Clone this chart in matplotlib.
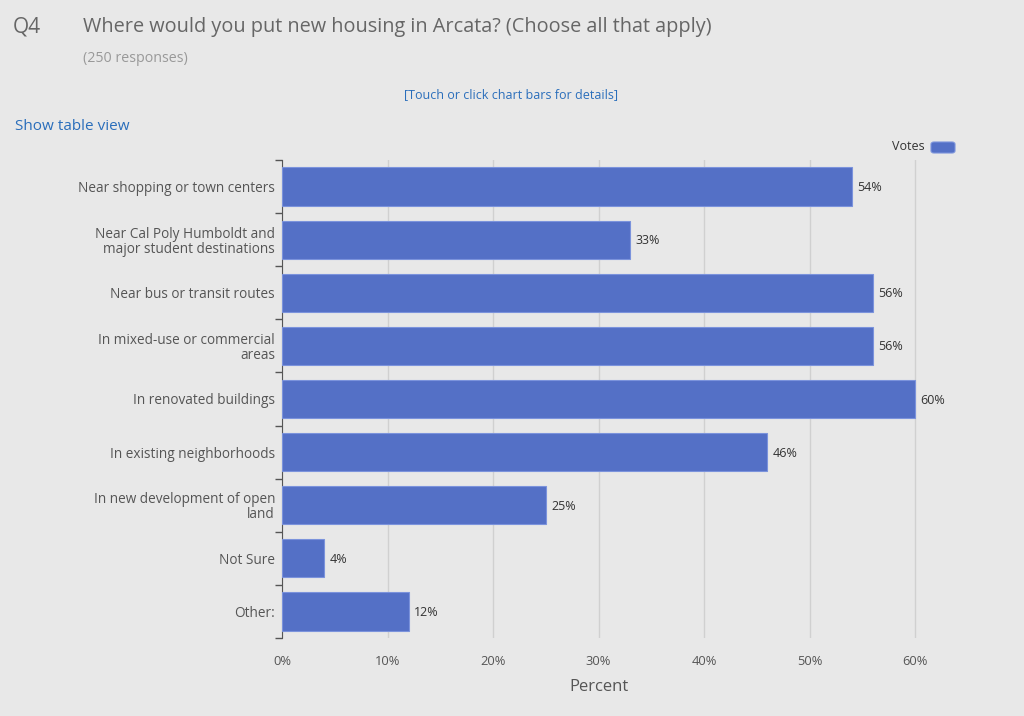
import numpy as np
import matplotlib.pyplot as plt
from matplotlib.patches import FancyBboxPatch

categories = [
    'Near shopping or town centers',
    'Near Cal Poly Humboldt and\nmajor student destinations',
    'Near bus or transit routes',
    'In mixed-use or commercial\nareas',
    'In renovated buildings',
    'In existing neighborhoods',
    'In new development of open\nland',
    'Not Sure',
    'Other:',
]
percents = [54, 33, 56, 56, 60, 46, 25, 4, 12]
xticks = [0, 10, 20, 30, 40, 50, 60]

bg = '#e8e8e8'
bar_color = '#5470c6'
text_gray = '#555555'

plt.rcParams['font.family'] = ['Open Sans', 'DejaVu Sans']

fig = plt.figure(figsize=(10.24, 7.16), dpi=100, facecolor=bg)
ax = fig.add_axes([282 / 1024, 1 - 638 / 716, 663 / 1024, 478 / 716])
ax.set_facecolor(bg)

y = np.arange(len(categories))
ax.barh(y, percents, height=0.72, color=bar_color, edgecolor='#7b93dc', linewidth=0.8, zorder=3)
for yi, v in zip(y, percents):
    ax.text(v + 0.5, yi + 0.02, f'{v}%', va='center', ha='left', fontsize=9, color='#333333')

ax.set_xlim(0, 663 / 10.55)
ax.set_ylim(len(categories) - 0.5, -0.5)
ax.set_xticks(xticks)
ax.set_xticklabels([f'{t}%' for t in xticks], fontsize=9.3, color=text_gray)
ax.tick_params(axis='x', length=0, pad=12)
ax.grid(axis='x', color='#d0d0d0', linewidth=1, zorder=0)

ax.set_yticks(y)
ax.set_yticklabels(categories, fontsize=9.8, color=text_gray, linespacing=1.0)
ax.tick_params(axis='y', which='major', length=0, pad=5)
ax.set_yticks(np.arange(len(categories) + 1) - 0.5, minor=True)
ax.tick_params(axis='y', which='minor', length=5, color='#555555', width=1)

for s in ['top', 'right', 'bottom']:
    ax.spines[s].set_visible(False)
ax.spines['left'].set_color('#555555')

ax.set_xlabel('Percent', fontsize=12, color=text_gray)
ax.xaxis.set_label_coords(317 / 663, -41 / 478)

# header texts
fig.text(13 / 1024, 1 - 27 / 716, 'Q4', fontsize=15, color='#666666', va='center')
fig.text(83 / 1024, 1 - 27 / 716, 'Where would you put new housing in Arcata? (Choose all that apply)',
         fontsize=14.3, color='#666666', va='center')
fig.text(83 / 1024, 1 - 58 / 716, '(250 responses)', fontsize=10.3, color='#999999', va='center')
fig.text(511 / 1024, 1 - 95 / 716, '[Touch or click chart bars for details]', fontsize=9,
         color='#2a6ebb', va='center', ha='center')
fig.text(15 / 1024, 1 - 126 / 716, 'Show table view', fontsize=11, color='#2a6ebb', va='center')

# legend
fig.text(925 / 1024, 1 - 147 / 716, 'Votes', fontsize=9, color='#333333', va='center', ha='right')
fig.patches.append(FancyBboxPatch((931 / 1024, 1 - 153 / 716), 24 / 1024, 11 / 716,
                                  boxstyle='round,pad=0,rounding_size=0.003',
                                  transform=fig.transFigure, facecolor=bar_color,
                                  edgecolor='#7b93dc', linewidth=0.8))

fig.savefig('out.png', dpi=100, facecolor=bg)
